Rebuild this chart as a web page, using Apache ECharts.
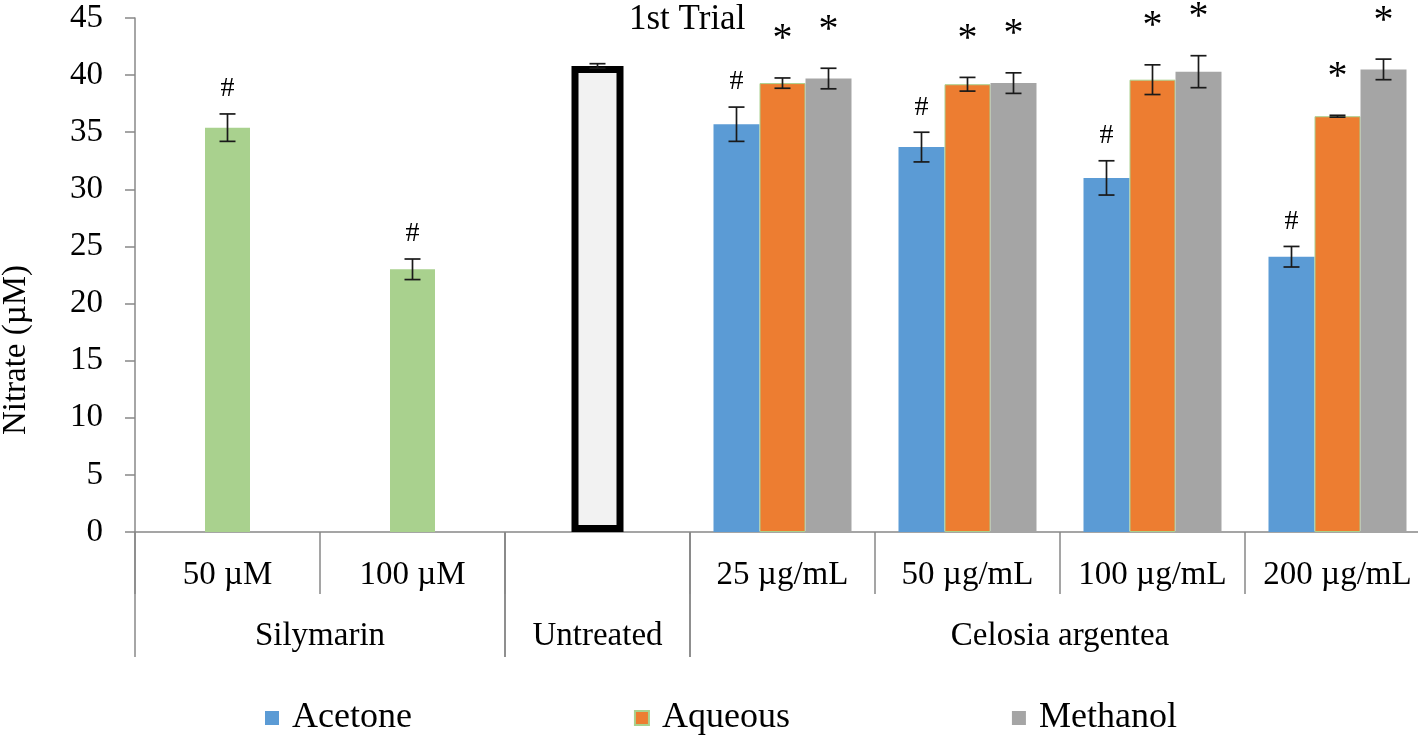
<!DOCTYPE html>
<html lang="en">
<head>
    <meta charset="UTF-8">
    <title>1st Trial</title>
    <style>
        *{
            margin: 0;
            padding: 0;
        }
        html ,body{
            height:100%;
            width:100%;
            background: #fff;
        }
        #chart{
            width: 1418px;
            height: 737px;
        }
    </style>
</head>
<body>
<div id="chart"></div>
<script src="https://cdn.jsdelivr.net/npm/echarts@6/dist/echarts.min.js"></script>
<script>
    var categories = ['50 µM', '100 µM', '', '25 µg/mL', '50 µg/mL', '100 µg/mL', '200 µg/mL'];
    var groupNames = ['Silymarin', 'Untreated', 'Celosia argentea'];
    var groupFrom = [0, 2, 3];
    var groupTo = [1, 2, 6];
    var yTicks = [0, 5, 10, 15, 20, 25, 30, 35, 40, 45];

    var silymarin    = [35.4, 23.0, null, null, null, null, null];
    var silymarinErr = [1.2, 0.9, null, null, null, null, null];
    var untreated    = [null, null, 40.8, null, null, null, null];
    var untreatedErr = [null, null, 0.2, null, null, null, null];
    var acetone      = [null, null, null, 35.7, 33.7, 31.0, 24.1];
    var acetoneErr   = [null, null, null, 1.5, 1.3, 1.5, 0.9];
    var aqueous      = [null, null, null, 39.3, 39.2, 39.6, 36.4];
    var aqueousErr   = [null, null, null, 0.45, 0.6, 1.3, 0.08];
    var methanol     = [null, null, null, 39.7, 39.3, 40.3, 40.5];
    var methanolErr  = [null, null, null, 0.9, 0.9, 1.4, 0.9];

    var font = 'Liberation Serif';
    var barW = 46;

    function toBar(arr) {
        return arr.map(function (v) { return v == null ? '-' : v; });
    }
    function toErr(vals, errs) {
        var out = [];
        for (var i = 0; i < vals.length; i++) {
            if (vals[i] != null) out.push([i, vals[i], errs[i]]);
        }
        return out;
    }

    // error bar + significance mark, shifted to sit over its bar
    function errorSeries(vals, errs, xAxisIndex, offset, mark) {
        return {
            type: 'custom',
            xAxisIndex: xAxisIndex,
            silent: true,
            z: 5,
            data: toErr(vals, errs),
            renderItem: function (params, api) {
                var i = api.value(0), v = api.value(1), e = api.value(2);
                var cx = api.coord([i, v])[0] + offset;
                var top = api.coord([i, v + e])[1];
                var bot = api.coord([i, v - e])[1];
                var st = {stroke: '#1a1a1a', lineWidth: 1.7};
                var kids = [
                    {type: 'line', shape: {x1: cx, y1: top, x2: cx, y2: bot}, style: st},
                    {type: 'line', shape: {x1: cx - 8, y1: top, x2: cx + 8, y2: top}, style: st},
                    {type: 'line', shape: {x1: cx - 8, y1: bot, x2: cx + 8, y2: bot}, style: st}
                ];
                if (mark) {
                    var star = mark === '*';
                    kids.push({
                        type: 'text',
                        style: {
                            text: mark,
                            x: cx,
                            y: top - (star ? 38 : 25),
                            align: 'center',
                            verticalAlign: 'middle',
                            fontFamily: font,
                            fontSize: star ? 40 : 28,
                            fill: '#000'
                        }
                    });
                }
                return {type: 'group', children: kids};
            }
        };
    }

    var chart = echarts.init(document.getElementById('chart'));

    var option = {
        animation: false,
        textStyle: {fontFamily: font, color: '#000'},
        title: {
            text: '1st Trial',
            left: 624,
            top: -3,
            textStyle: {fontFamily: font, fontSize: 35, fontWeight: 'normal', color: '#000'}
        },
        legend: {
            data: ['Acetone', 'Aqueous', 'Methanol'],
            left: 260,
            top: 695,
            icon: 'rect',
            itemWidth: 14,
            itemHeight: 14,
            itemGap: 222,
            textStyle: {fontFamily: font, fontSize: 36, color: '#000', padding: [0, 0, 0, 8]}
        },
        grid: {left: 135, top: 18, width: 1295, height: 514, outerBoundsMode: 'none'},
        xAxis: [{
            type: 'category',
            data: categories,
            axisLine: {lineStyle: {color: '#888', width: 1.5}},
            axisTick: {show: true, interval: 0, length: 62, lineStyle: {color: '#888', width: 1.5}},
            axisLabel: {interval: 0, margin: 27, fontFamily: font, fontSize: 33, color: '#000'}
        }, {
            type: 'category',
            data: categories,
            show: false
        }, {
            type: 'category',
            data: categories,
            show: false
        }],
        yAxis: {
            type: 'value',
            min: 0,
            max: 45,
            interval: 5,
            name: 'Nitrate (µM)',
            nameLocation: 'middle',
            nameRotate: 90,
            nameGap: 102,
            nameTextStyle: {fontFamily: font, fontSize: 33, color: '#000', padding: [0, 150, 0, 0]},
            axisLine: {show: true, lineStyle: {color: '#888', width: 1.5}},
            axisTick: {show: true, length: 10, lineStyle: {color: '#888', width: 1.5}},
            axisLabel: {
                margin: 32, fontFamily: font, fontSize: 33, color: '#000',
                formatter: function (v) { return yTicks.indexOf(v) >= 0 ? String(v) : ''; }
            },
            splitLine: {show: false}
        },
        series: [
            {
                name: 'Acetone', type: 'bar', xAxisIndex: 0, barWidth: barW, barGap: 0,
                itemStyle: {color: '#5b9bd5'}, data: toBar(acetone)
            },
            {
                name: 'Aqueous', type: 'bar', xAxisIndex: 0, barWidth: barW, barGap: 0,
                itemStyle: {color: '#ed7d31', borderColor: '#a9d18e', borderWidth: 1},
                data: toBar(aqueous)
            },
            {
                name: 'Methanol', type: 'bar', xAxisIndex: 0, barWidth: barW, barGap: 0,
                itemStyle: {color: '#a5a5a5'}, data: toBar(methanol)
            },
            {
                name: 'Silymarin', type: 'bar', xAxisIndex: 1, barWidth: 45,
                itemStyle: {color: '#a9d18e'}, data: toBar(silymarin)
            },
            {
                name: 'Untreated', type: 'bar', xAxisIndex: 2, barWidth: 52,
                itemStyle: {color: '#f2f2f2', borderColor: '#000', borderWidth: 7},
                data: toBar(untreated)
            },
            errorSeries(acetone, acetoneErr, 0, -barW, '#'),
            errorSeries(aqueous, aqueousErr, 0, 0, '*'),
            errorSeries(methanol, methanolErr, 0, barW, '*'),
            errorSeries(silymarin, silymarinErr, 1, 0, '#'),
            errorSeries(untreated, untreatedErr, 2, 0, null),
            {
                // group labels under the category row, with long dividers
                type: 'custom',
                xAxisIndex: 0,
                silent: true,
                clip: false,
                data: groupFrom.map(function (f, k) { return [f, groupTo[k], 0]; }),
                renderItem: function (params, api) {
                    var k = params.dataIndex;
                    var band = api.size([1, 0])[0];
                    var x0 = api.coord([api.value(0), 0])[0] - band / 2;
                    var x1 = api.coord([api.value(1), 0])[0] + band / 2;
                    var y0 = api.coord([0, 0])[1];
                    var st = {stroke: '#888', lineWidth: 1.5};
                    return {
                        type: 'group',
                        children: [
                            {type: 'line', shape: {x1: x0, y1: y0, x2: x0, y2: y0 + 125}, style: st},
                            {type: 'line', shape: {x1: x1, y1: y0, x2: x1, y2: y0 + 125}, style: st},
                            {
                                type: 'text',
                                style: {
                                    text: groupNames[k], x: (x0 + x1) / 2, y: y0 + 104,
                                    align: 'center', verticalAlign: 'middle',
                                    fontFamily: font, fontSize: 33, fill: '#000'
                                }
                            }
                        ]
                    };
                }
            }
        ]
    };
    chart.setOption(option);
</script>
</body>
</html>
